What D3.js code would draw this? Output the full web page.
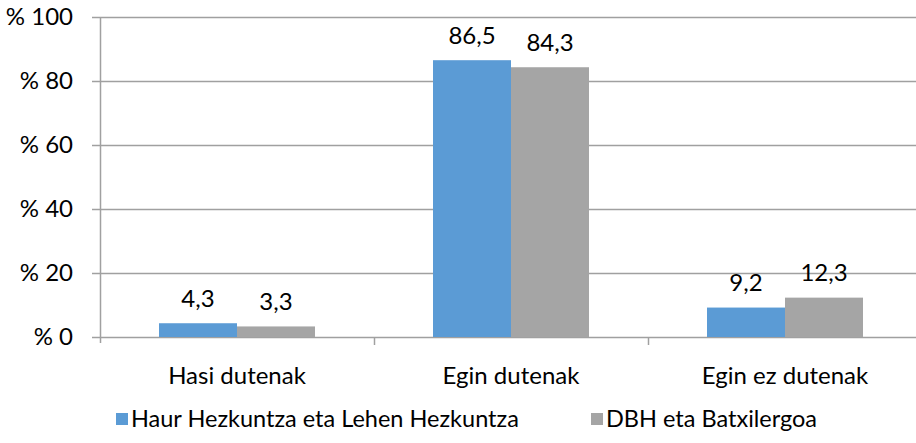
<!DOCTYPE html>
<html>
<head>
<meta charset="utf-8">
<script src="https://cdn.jsdelivr.net/npm/d3@7"></script>
<style>
  body { margin: 0; background: #fff; }
  svg text { font-family: Lato, "Open Sans", sans-serif; fill: #000; font-size: 24px; }
</style>
</head>
<body>
<svg width="916" height="443"></svg>
<script>
// data
var categories = ["Hasi dutenak", "Egin dutenak", "Egin ez dutenak"];
var seriesNames = ["Haur Hezkuntza eta Lehen Hezkuntza", "DBH eta Batxilergoa"];
var seriesA = [4.3, 86.5, 9.2];
var seriesB = [3.3, 84.3, 12.3];
var yTicks = [0, 20, 40, 60, 80, 100];
var colors = ["#5b9bd5", "#a5a5a5"];

var svg = d3.select("svg"),
    margin = {top: 17, right: -6, bottom: 106, left: 100},
    width = +svg.attr("width") - margin.left - margin.right,
    height = +svg.attr("height") - margin.top - margin.bottom;

var x = d3.scaleBand().domain(categories).range([0, width]).paddingInner(0).paddingOuter(0);
var x1 = d3.scaleBand().domain([0, 1]).range([0, 156]);
var y = d3.scaleLinear().domain([0, 100]).range([height, 0]);

var g = svg.append("g")
    .attr("transform", "translate(" + margin.left + "," + margin.top + ")");

// gridlines
g.selectAll(".grid")
    .data(yTicks)
    .enter().append("line")
    .attr("x1", -8)
    .attr("x2", width)
    .attr("y1", function(d) { return y(d) + 0.5; })
    .attr("y2", function(d) { return y(d) + 0.5; })
    .attr("stroke", "#a0a0a0")
    .attr("stroke-width", 1.5);

// y axis line
g.append("line")
    .attr("x1", 0.5).attr("x2", 0.5)
    .attr("y1", 0).attr("y2", height + 6)
    .attr("stroke", "#a0a0a0")
    .attr("stroke-width", 1.5);

// y labels
g.selectAll(".ylab")
    .data(yTicks)
    .enter().append("text")
    .attr("x", -27)
    .attr("y", function(d) { return y(d); })
    .attr("dy", "0.35em")
    .attr("text-anchor", "end")
    .text(function(d) { return "% " + d; });

// category ticks
g.selectAll(".xtick")
    .data(categories.slice(1))
    .enter().append("line")
    .attr("x1", function(d) { return x(d) + 0.5; })
    .attr("x2", function(d) { return x(d) + 0.5; })
    .attr("y1", height)
    .attr("y2", height + 8)
    .attr("stroke", "#a0a0a0")
    .attr("stroke-width", 1.5);

// category labels
g.selectAll(".xlab")
    .data(categories)
    .enter().append("text")
    .attr("x", function(d) { return x(d) + x.bandwidth() / 2; })
    .attr("y", height + 39)
    .attr("dy", "0.35em")
    .attr("text-anchor", "middle")
    .text(function(d) { return d; });

var series = [seriesA, seriesB];
series.forEach(function(vals, s) {
    var off = (x.bandwidth() - 156) / 2;
    g.selectAll(".bar" + s)
        .data(vals)
        .enter().append("rect")
        .attr("x", function(d, i) { return x(categories[i]) + off + x1(s); })
        .attr("y", function(d) { return y(d); })
        .attr("width", x1.bandwidth())
        .attr("height", function(d) { return height - y(d); })
        .attr("fill", colors[s]);

    g.selectAll(".val" + s)
        .data(vals)
        .enter().append("text")
        .attr("x", function(d, i) { return x(categories[i]) + off + x1(s) + x1.bandwidth() / 2; })
        .attr("y", function(d) { return y(d) - 25; })
        .attr("dy", "0.35em")
        .attr("text-anchor", "middle")
        .text(function(d) { return String(d).replace(".", ","); });
});

// legend
var legendX = [116, 591];
var legend = svg.selectAll(".legend")
    .data(seriesNames)
    .enter().append("g")
    .attr("transform", function(d, i) { return "translate(" + legendX[i] + ",419)"; });
legend.append("rect")
    .attr("x", 0).attr("y", -6)
    .attr("width", 12).attr("height", 12)
    .attr("fill", function(d, i) { return colors[i]; });
legend.append("text")
    .attr("x", 15)
    .attr("y", 0)
    .attr("dy", "0.35em")
    .style("font-size", "23.5px")
    .text(function(d) { return d; });
</script>
</body>
</html>
